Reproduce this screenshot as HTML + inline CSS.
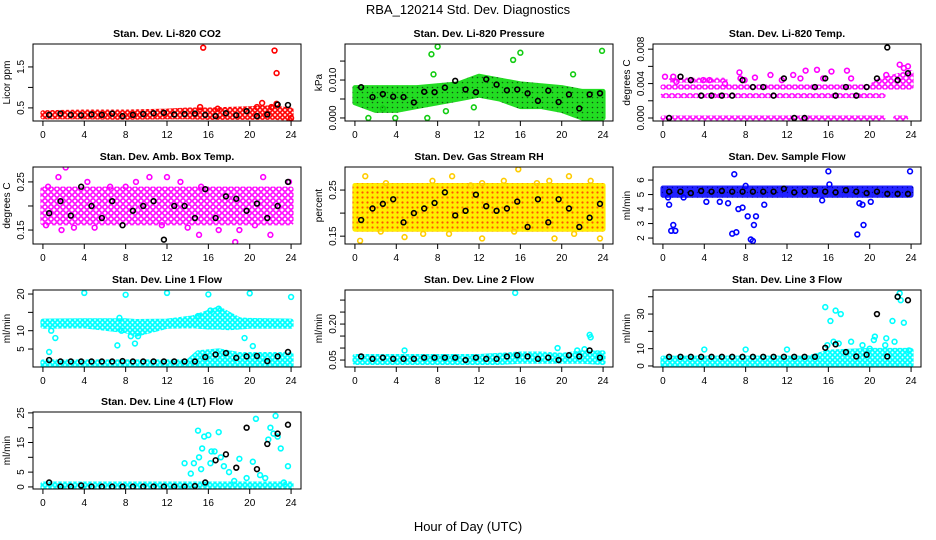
<!DOCTYPE html>
<html><head><meta charset="utf-8"><style>
body{margin:0;background:#fff;}
svg{display:block;font-family:"Liberation Sans",Arial,sans-serif;}
</style></head><body>
<svg id="chart" width="936" height="540" viewBox="0 0 936 540">
<defs>
<pattern id="pat-red" width="5" height="5" patternUnits="userSpaceOnUse"><rect width="5" height="5" fill="#fff"/><circle cx="2.5" cy="2.5" r="1.8" fill="none" stroke="#ff0000" stroke-width="1.6"/></pattern>
<pattern id="pat-green" width="5" height="5" patternUnits="userSpaceOnUse"><rect width="5" height="5" fill="#22dd22"/><circle cx="2.5" cy="2.5" r="0.8" fill="#115511"/></pattern>
<pattern id="pat-magenta" width="6" height="6" patternUnits="userSpaceOnUse"><rect width="6" height="6" fill="#fff"/><circle cx="3" cy="3" r="2.2" fill="none" stroke="#ff00ff" stroke-width="1.6"/></pattern>
<pattern id="pat-orange" width="5" height="5" patternUnits="userSpaceOnUse"><rect width="5" height="5" fill="#ffee00"/><circle cx="2.5" cy="2.5" r="1.1" fill="#ff5500"/></pattern>
<pattern id="pat-blue" width="5" height="5" patternUnits="userSpaceOnUse"><rect width="5" height="5" fill="#2222ff"/><circle cx="2.5" cy="2.5" r="0.7" fill="#0000aa"/></pattern>
<pattern id="pat-cyan" width="5" height="5" patternUnits="userSpaceOnUse"><rect width="5" height="5" fill="#fff"/><circle cx="2.5" cy="2.5" r="1.9" fill="none" stroke="#00ffff" stroke-width="1.8"/></pattern>
</defs>
<text x="468" y="14" text-anchor="middle" font-size="13">RBA_120214  Std. Dev. Diagnostics</text>
<text x="468" y="531" text-anchor="middle" font-size="13">Hour of Day (UTC)</text>
</svg>
<script>
const mean_hours=[0.6,1.7,2.7,3.7,4.7,5.7,6.7,7.7,8.7,9.7,10.7,11.7,12.7,13.7,14.7,15.7,16.7,17.7,18.7,19.7,20.7,21.7,22.7,23.7];
const x_ticks=[0,4,8,12,16,20,24];

const co2_band_hours=[0,4,8,12,14,16,20,22,24];
const co2_band_lo=[0.28,0.28,0.27,0.28,0.28,0.27,0.27,0.27,0.25];
const co2_band_hi=[0.38,0.4,0.4,0.42,0.45,0.45,0.48,0.5,0.45];
const co2_out_hours=[15.5,22.4,22.6,21.2,15.2,16.9,20.7,22.6,22.1,24];
const co2_out_vals=[1.97,1.9,1.35,0.62,0.52,0.48,0.52,0.6,0.52,0.25];
const co2_means=[0.33,0.36,0.33,0.32,0.34,0.33,0.36,0.3,0.33,0.35,0.37,0.38,0.34,0.35,0.36,0.33,0.3,0.37,0.32,0.42,0.3,0.34,0.58,0.57];

const prs_band_hours=[0,2,4,6,8,10,12,14,16,18,20,22,24];
const prs_band_lo=[0.004,0.002,0.002,0.003,0.004,0.005,0.006,0.005,0.003,0.003,0.002,0.0,0.0];
const prs_band_hi=[0.008,0.008,0.008,0.008,0.0085,0.009,0.011,0.01,0.009,0.0085,0.008,0.007,0.007];
const prs_out_hours=[8.0,7.4,7.6,16,15.3,23.9,21.1,1.3,3.9,7.0,8.8,11.5,2.7];
const prs_out_vals=[0.0188,0.0168,0.0115,0.0172,0.0153,0.0177,0.0115,0.0,0.0,0.0,0.0018,0.0028,0.0025];
const prs_means=[0.0081,0.0055,0.0063,0.0056,0.0055,0.0041,0.0069,0.0068,0.008,0.0098,0.0075,0.0068,0.0102,0.0088,0.0073,0.0075,0.0065,0.0045,0.0072,0.0042,0.0062,0.0025,0.0062,0.0065];

const tmp_band_hours=[0,21.3];
const tmp_band_lo=[0,0];
const tmp_band_hi=[0,0];
const tmp_band2_hours=[0,21.3];
const tmp_band2_lo=[0.0026,0.0026];
const tmp_band2_hi=[0.0026,0.0026];
const tmp_band3_hours=[0,20,21,24];
const tmp_band3_lo=[0.0036,0.0036,0.0036,0.0036];
const tmp_band3_hi=[0.0036,0.0036,0.0044,0.0053];
const tmp_band4_hours=[0.8,6];
const tmp_band4_lo=[0.0044,0.0044];
const tmp_band4_hi=[0.0044,0.0044];
const tmp_band5_hours=[22.5,23.5];
const tmp_band5_lo=[0,0];
const tmp_band5_hi=[0,0];
const tmp_out_hours=[0.2,1.0,1.3,2.7,3.9,4.5,6.0,7.4,7.5,8.9,10.4,12.6,13.3,13.8,14.9,16.3,17.8,18.2,22.9,23.3,23.7,21.6,7.9,11.5,15.5];
const tmp_out_vals=[0.0048,0.0048,0.0042,0.0044,0.0044,0.0044,0.004,0.0053,0.0046,0.0047,0.005,0.005,0.0046,0.0055,0.0056,0.0054,0.0055,0.0046,0.0062,0.0058,0.006,0.005,0.0044,0.0044,0.0046];
const tmp_means=[0,0.0048,0.0044,0.0026,0.0026,0.0026,0.0026,0.0044,0.0036,0.0036,0.0026,0.0046,0,0,0.0036,0.0046,0.0026,0.0036,0.0026,0.0036,0.0046,0.0082,0.0044,0.0052];

const amb_band_hours=[0,24];
const amb_band_lo=[0.165,0.165];
const amb_band_hi=[0.235,0.235];
const amb_out_hours=[0.5,1.5,2.2,4.3,6.5,9.0,10.3,12.0,13.3,15.3,15.1,18.6,19.0,21.3,22.0,23.8,3.0,8.0,17.0,1.8,5.0,11.5,0.3,14,20.5];
const amb_out_vals=[0.24,0.26,0.28,0.25,0.24,0.25,0.26,0.26,0.25,0.24,0.14,0.125,0.15,0.26,0.14,0.25,0.155,0.24,0.15,0.15,0.155,0.16,0.16,0.155,0.16];
const amb_means=[0.185,0.21,0.18,0.24,0.2,0.175,0.21,0.16,0.19,0.2,0.21,0.13,0.2,0.2,0.175,0.235,0.175,0.22,0.215,0.19,0.205,0.175,0.2,0.25];

const rh_band_hours=[0,24];
const rh_band_lo=[0.165,0.165];
const rh_band_hi=[0.26,0.26];
const rh_out_hours=[1,3,7.5,9.4,11.2,12.3,14.4,15.8,18.8,20.7,22.8,0.5,2.5,4.8,6.6,9.1,12.3,15.4,19.3,23.7,17.6,21.2];
const rh_out_vals=[0.28,0.265,0.27,0.28,0.26,0.265,0.27,0.295,0.27,0.28,0.27,0.14,0.16,0.148,0.155,0.155,0.145,0.16,0.145,0.145,0.265,0.155];
const rh_means=[0.185,0.21,0.22,0.23,0.18,0.2,0.21,0.222,0.245,0.195,0.205,0.24,0.215,0.205,0.21,0.225,0.17,0.23,0.18,0.23,0.21,0.17,0.19,0.22];

const sf_band_hours=[0,24];
const sf_band_lo=[4.95,4.95];
const sf_band_hi=[5.45,5.45];
const sf_out_hours=[0.5,0.6,0.8,1.0,1.2,4.2,5.5,6.3,6.7,6.9,7.1,7.3,8.0,8.2,8.5,8.7,8.8,9.0,9.8,15.4,16.0,16.1,18.8,19.0,19.3,19.4,20.1,23.9,7.7,2.0];
const sf_out_vals=[4.8,4.3,2.5,2.9,2.5,4.5,4.5,4.4,2.3,6.4,2.4,4.0,5.6,3.5,1.9,1.8,2.9,3.5,4.3,4.6,6.6,5.7,2.25,4.4,4.3,2.9,4.5,6.6,4.1,4.8];
const sf_means=[5.2,5.2,5.1,5.25,5.2,5.25,5.2,5.2,5.2,5.2,5.2,5.4,5.15,5.2,5.25,5.2,5.15,5.3,5.2,5.1,5.2,5.05,5.05,5.05];

const l1_band_hours=[0,4,8,9,12,14.5,16,17,18,19,20,24];
const l1_band_lo=[11.2,11.3,10,9,11.2,11.3,11,11,10.8,11,11.2,11.2];
const l1_band_hi=[12.6,12.7,12.7,12.5,12.6,13.5,15,16,14.5,13,12.8,12.6];
const l1_band2_hours=[0,14,15,17,19,24];
const l1_band2_lo=[0.5,0.5,0.5,0.5,0.5,0.5];
const l1_band2_hi=[1.5,1.5,4,4.5,3.5,3.5];
const l1_out_hours=[4,8,12,16,20,24,0.6,0.8,1.2,7.2,7.4,8.5,8.9,19.5,20.3,7.6,9.2,16.2,17.0,15.0];
const l1_out_vals=[20.3,19.8,20.3,19.9,20.2,19.2,4.2,10,8,6,13.5,8.5,6.5,8,5.8,10,8.5,15.5,16,14];
const l1_means=[2,1.6,1.6,1.6,1.6,1.6,1.6,1.7,1.6,1.6,1.6,1.6,1.6,1.6,1.6,2.8,3.5,3.9,2.6,3,3.1,1.7,3,4.2];

const l2_band_hours=[0,12,14,16,18,20,22,24];
const l2_band_lo=[0.04,0.04,0.04,0.045,0.045,0.045,0.045,0.04];
const l2_band_hi=[0.065,0.065,0.07,0.075,0.075,0.07,0.08,0.08];
const l2_out_hours=[15.5,22.7,22.8,4.8,19.6,21.5,22.2,23.6];
const l2_out_vals=[0.33,0.155,0.145,0.09,0.1,0.09,0.095,0.07];
const l2_means=[0.065,0.055,0.06,0.055,0.055,0.055,0.06,0.06,0.06,0.06,0.05,0.06,0.055,0.055,0.065,0.07,0.065,0.055,0.06,0.05,0.07,0.065,0.09,0.06];

const l3_band_hours=[0,14,16,20,24];
const l3_band_lo=[0.5,0.5,0.5,0.5,0.5];
const l3_band_hi=[4.5,4.5,8,9,9];
const l3_out_hours=[4,8,12,15.7,16.2,16.7,17.2,15.9,16.5,17.0,18.2,19.3,20.0,20.4,21.5,22.2,22.4,22.7,22.9,23.0,23.3,23.8,20.5,21.6];
const l3_out_vals=[9.5,9.5,9.5,34,26,32,30,12,14,13,14,12,10,15,12,26,14,40,42,38,25,9,17,16];
const l3_means=[5.3,5.3,5.3,5.3,5.3,5.3,5.3,5.3,5.3,5.3,5.3,5.3,5.3,5.3,5.3,10.5,12.5,8,5.5,6.5,30,5.5,40,38];

const l4_band_hours=[0,13.5,24];
const l4_band_lo=[-0.2,-0.2,-0.2];
const l4_band_hi=[1,1,1];
const l4_out_hours=[13.7,14.3,14.6,15.0,15.3,15.6,16.0,16.3,16.6,17.0,17.2,15.1,16.2,17.5,18,18.5,19.0,19.7,20.3,20.6,21.0,21.5,21.8,22.0,22.3,22.5,22.7,23.0,23.3,23.7,15.4];
const l4_out_vals=[8,4.5,8,19,6,17,17.5,12,12,18.5,10,10,8,7,5,2,9.5,3,8.5,23,4,3,16,20,18,24,17,13,1.5,7,13];
const l4_means=[1.5,0.1,0.1,0.5,0.1,0.1,0.1,0.1,0.1,0.1,0.1,0.1,0.1,0.1,0.3,1.5,9,11,6.5,20,6,14.5,18,21];

const NS='http://www.w3.org/2000/svg';
const svg=document.getElementById('chart');
function mk(tag,attrs,parent){const e=document.createElementNS(NS,tag);for(const k in attrs)e.setAttribute(k,attrs[k]);(parent||svg).appendChild(e);return e;}

const panels=[
 {id:'co2',title:'Stan. Dev. Li-820 CO2',yl:'Licor ppm',col:0,row:0,ylim:[0.18,2.06],yt:[0.5,1,1.5],ytl:['0.5','','1.5'],color:'#ff0000',pat:'pat-red',bands:[[co2_band_hours,co2_band_lo,co2_band_hi]],oh:co2_out_hours,ov:co2_out_vals,m:co2_means},
 {id:'pressure',title:'Stan. Dev. Li-820 Pressure',yl:'kPa',col:1,row:0,ylim:[-0.0008,0.0195],yt:[0,0.005,0.01,0.015],ytl:['0.000','','0.010',''],color:'#11cc11',pat:'pat-green',bands:[[prs_band_hours,prs_band_lo,prs_band_hi]],oh:prs_out_hours,ov:prs_out_vals,m:prs_means},
 {id:'temp',title:'Stan. Dev. Li-820 Temp.',yl:'degrees C',col:2,row:0,ylim:[-0.00035,0.0086],yt:[0,0.002,0.004,0.006,0.008],ytl:['0.000','','0.004','','0.008'],color:'#ff00ff',pat:'pat-magenta',bands:[[tmp_band_hours,tmp_band_lo,tmp_band_hi],[tmp_band2_hours,tmp_band2_lo,tmp_band2_hi],[tmp_band3_hours,tmp_band3_lo,tmp_band3_hi],[tmp_band4_hours,tmp_band4_lo,tmp_band4_hi],[tmp_band5_hours,tmp_band5_lo,tmp_band5_hi]],oh:tmp_out_hours,ov:tmp_out_vals,m:tmp_means},
 {id:'amb',title:'Stan. Dev. Amb. Box Temp.',yl:'degrees C',col:0,row:1,ylim:[0.121,0.281],yt:[0.15,0.2,0.25],ytl:['0.15','','0.25'],color:'#ff00ff',pat:'pat-magenta',bands:[[amb_band_hours,amb_band_lo,amb_band_hi]],oh:amb_out_hours,ov:amb_out_vals,m:amb_means},
 {id:'rh',title:'Stan. Dev. Gas Stream RH',yl:'percent',col:1,row:1,ylim:[0.133,0.3],yt:[0.15,0.2,0.25],ytl:['0.15','','0.25'],color:'#ffcc00',pat:'pat-orange',bands:[[rh_band_hours,rh_band_lo,rh_band_hi]],oh:rh_out_hours,ov:rh_out_vals,m:rh_means},
 {id:'sample',title:'Stan. Dev. Sample Flow',yl:'ml/min',col:2,row:1,ylim:[1.59,6.9],yt:[2,3,4,5,6],ytl:['2','3','4','5','6'],color:'#0000ff',pat:'pat-blue',bands:[[sf_band_hours,sf_band_lo,sf_band_hi]],oh:sf_out_hours,ov:sf_out_vals,m:sf_means},
 {id:'line1',title:'Stan. Dev. Line 1 Flow',yl:'ml/min',col:0,row:2,ylim:[0.1,21.1],yt:[5,10,15,20],ytl:['5','10','','20'],color:'#00ffff',pat:'pat-cyan',bands:[[l1_band_hours,l1_band_lo,l1_band_hi],[l1_band2_hours,l1_band2_lo,l1_band2_hi]],oh:l1_out_hours,ov:l1_out_vals,m:l1_means},
 {id:'line2',title:'Stan. Dev. Line 2 Flow',yl:'ml/min',col:1,row:2,ylim:[0.021,0.342],yt:[0.05,0.1,0.15,0.2,0.25,0.3],ytl:['0.05','','','0.20','',''],color:'#00ffff',pat:'pat-cyan',bands:[[l2_band_hours,l2_band_lo,l2_band_hi]],oh:l2_out_hours,ov:l2_out_vals,m:l2_means},
 {id:'line3',title:'Stan. Dev. Line 3 Flow',yl:'ml/min',col:2,row:2,ylim:[-0.6,43.9],yt:[0,10,20,30,40],ytl:['0','10','','30',''],color:'#00ffff',pat:'pat-cyan',bands:[[l3_band_hours,l3_band_lo,l3_band_hi]],oh:l3_out_hours,ov:l3_out_vals,m:l3_means},
 {id:'line4',title:'Stan. Dev. Line 4 (LT) Flow',yl:'ml/min',col:0,row:3,ylim:[-0.7,25.3],yt:[0,5,10,15,20,25],ytl:['0','5','','15','','25'],color:'#00ffff',pat:'pat-cyan',bands:[[l4_band_hours,l4_band_lo,l4_band_hi]],oh:l4_out_hours,ov:l4_out_vals,m:l4_means}
];
const colLeft=[33,345,653], rowTop=[44,167,290,412], W=268, H=77;

panels.forEach(p=>{
 const L=colLeft[p.col], T=rowTop[p.row];
 const g=mk('g',{});
 
 
 const xs=h=>L+W*(h+0.96)/25.92;
 const ys=v=>T+H-H*(v-p.ylim[0])/(p.ylim[1]-p.ylim[0]);
 const clip=mk('clipPath',{id:'clip-'+p.id},g);
 mk('rect',{x:L,y:T,width:W,height:H},clip);
 const pg=mk('g',{'clip-path':'url(#clip-'+p.id+')'},g);
 p.bands.forEach(b=>{
  const [bh,lo,hi]=b;
  let pts=bh.map((h,i)=>xs(h)+','+ys(hi[i]));
  for(let i=bh.length-1;i>=0;i--)pts.push(xs(bh[i])+','+ys(lo[i]));
  const poly=mk('polygon',{points:pts.join(' '),fill:'url(#'+p.pat+')',stroke:'url(#'+p.pat+')','stroke-width':5,'stroke-linejoin':'round'},pg);
  
  
 });
 p.oh.forEach((h,i)=>{
  const c=mk('circle',{cx:xs(h),cy:ys(p.ov[i]),r:2.4,fill:'none',stroke:p.color,'stroke-width':1.6},pg);
  
  
 });
 p.m.forEach((v,i)=>{
  const c=mk('circle',{cx:xs(mean_hours[i]),cy:ys(v),r:2.4,fill:'none',stroke:'#000','stroke-width':1.6},pg);
  
  
 });
 const box=mk('rect',{x:L,y:T,width:W,height:H,fill:'none',stroke:'#000','stroke-width':1},g);
 
 
 const title=mk('text',{x:L+W/2,y:T-7,'text-anchor':'middle','font-size':10.5,'font-weight':'bold'},g);
 title.textContent=p.title;
 
 
 mk('line',{x1:xs(0),x2:xs(24),y1:T+H,y2:T+H,stroke:'#000'},g);
 x_ticks.forEach(t=>{
  mk('line',{x1:xs(t),x2:xs(t),y1:T+H,y2:T+H+5,stroke:'#000'},g);
  const tx=mk('text',{x:xs(t),y:T+H+17,'text-anchor':'middle','font-size':10},g);
  tx.textContent=t;
  
  
 });
 const y0=ys(p.yt[0]), y1=ys(p.yt[p.yt.length-1]);
 mk('line',{x1:L,x2:L,y1:y0,y2:y1,stroke:'#000'},g);
 p.yt.forEach((t,i)=>{
  mk('line',{x1:L-5,x2:L,y1:ys(t),y2:ys(t),stroke:'#000'},g);
  if(p.ytl[i]){
   const tx=mk('text',{x:L-9,y:ys(t),'text-anchor':'middle','font-size':10,transform:'rotate(-90 '+(L-9)+' '+ys(t)+')'},g);
   tx.textContent=p.ytl[i];
   
   
  }
 });
 const yl=mk('text',{x:L-23,y:T+H/2,'text-anchor':'middle','font-size':10,transform:'rotate(-90 '+(L-23)+' '+(T+H/2)+')'},g);
 yl.textContent=p.yl;
 
 
});
</script>
</body></html>
